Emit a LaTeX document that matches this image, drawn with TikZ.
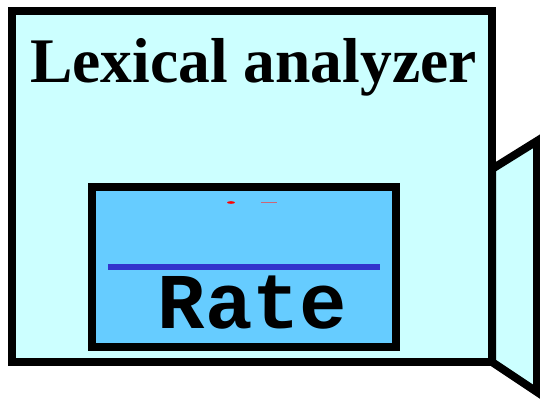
\documentclass[tikz,border=0pt]{standalone}
\usepackage{fontspec}
\setmainfont{Liberation Serif}
\newfontfamily\monofont{Liberation Mono}
\definecolor{boxcyan}{HTML}{CCFFFF}
\definecolor{innerblue}{HTML}{66CCFF}
\definecolor{linecol}{HTML}{3333CC}
\definecolor{markred}{HTML}{CC6677}
\begin{document}
\begin{tikzpicture}[x=1pt,y=-1pt,
  outline/.style={draw=black,line width=8pt,line join=miter},
  titletext/.style={font=\fontsize{63.5}{68}\selectfont\bfseries,inner sep=0pt,anchor=base},
  monotext/.style={font=\monofont\fontsize{79}{84}\selectfont\bfseries,inner sep=0pt,anchor=base}]
\useasboundingbox (0,0) rectangle (540,399);
% side flap
\path[outline,fill=boxcyan] (492,169) -- (537,141) -- (537,392) -- (492,362) -- cycle;
% outer box
\path[outline,fill=boxcyan] (12,11) rectangle (492,362);
\node[titletext] (title) at (253.5,82) {Lexical analyzer};
% inner box
\path[outline,fill=innerblue] (92,187) rectangle (396,347);
\draw[linecol,line width=6pt] (108,267) -- (380,267);
\node[monotext] (rate) at (252.5,328) {Rate};
% small red marks
\fill[red] (231,202.5) ellipse [x radius=4pt,y radius=1.3pt];
\draw[markred,line width=1pt] (261,202) -- (277,202);
\end{tikzpicture}
\end{document}
